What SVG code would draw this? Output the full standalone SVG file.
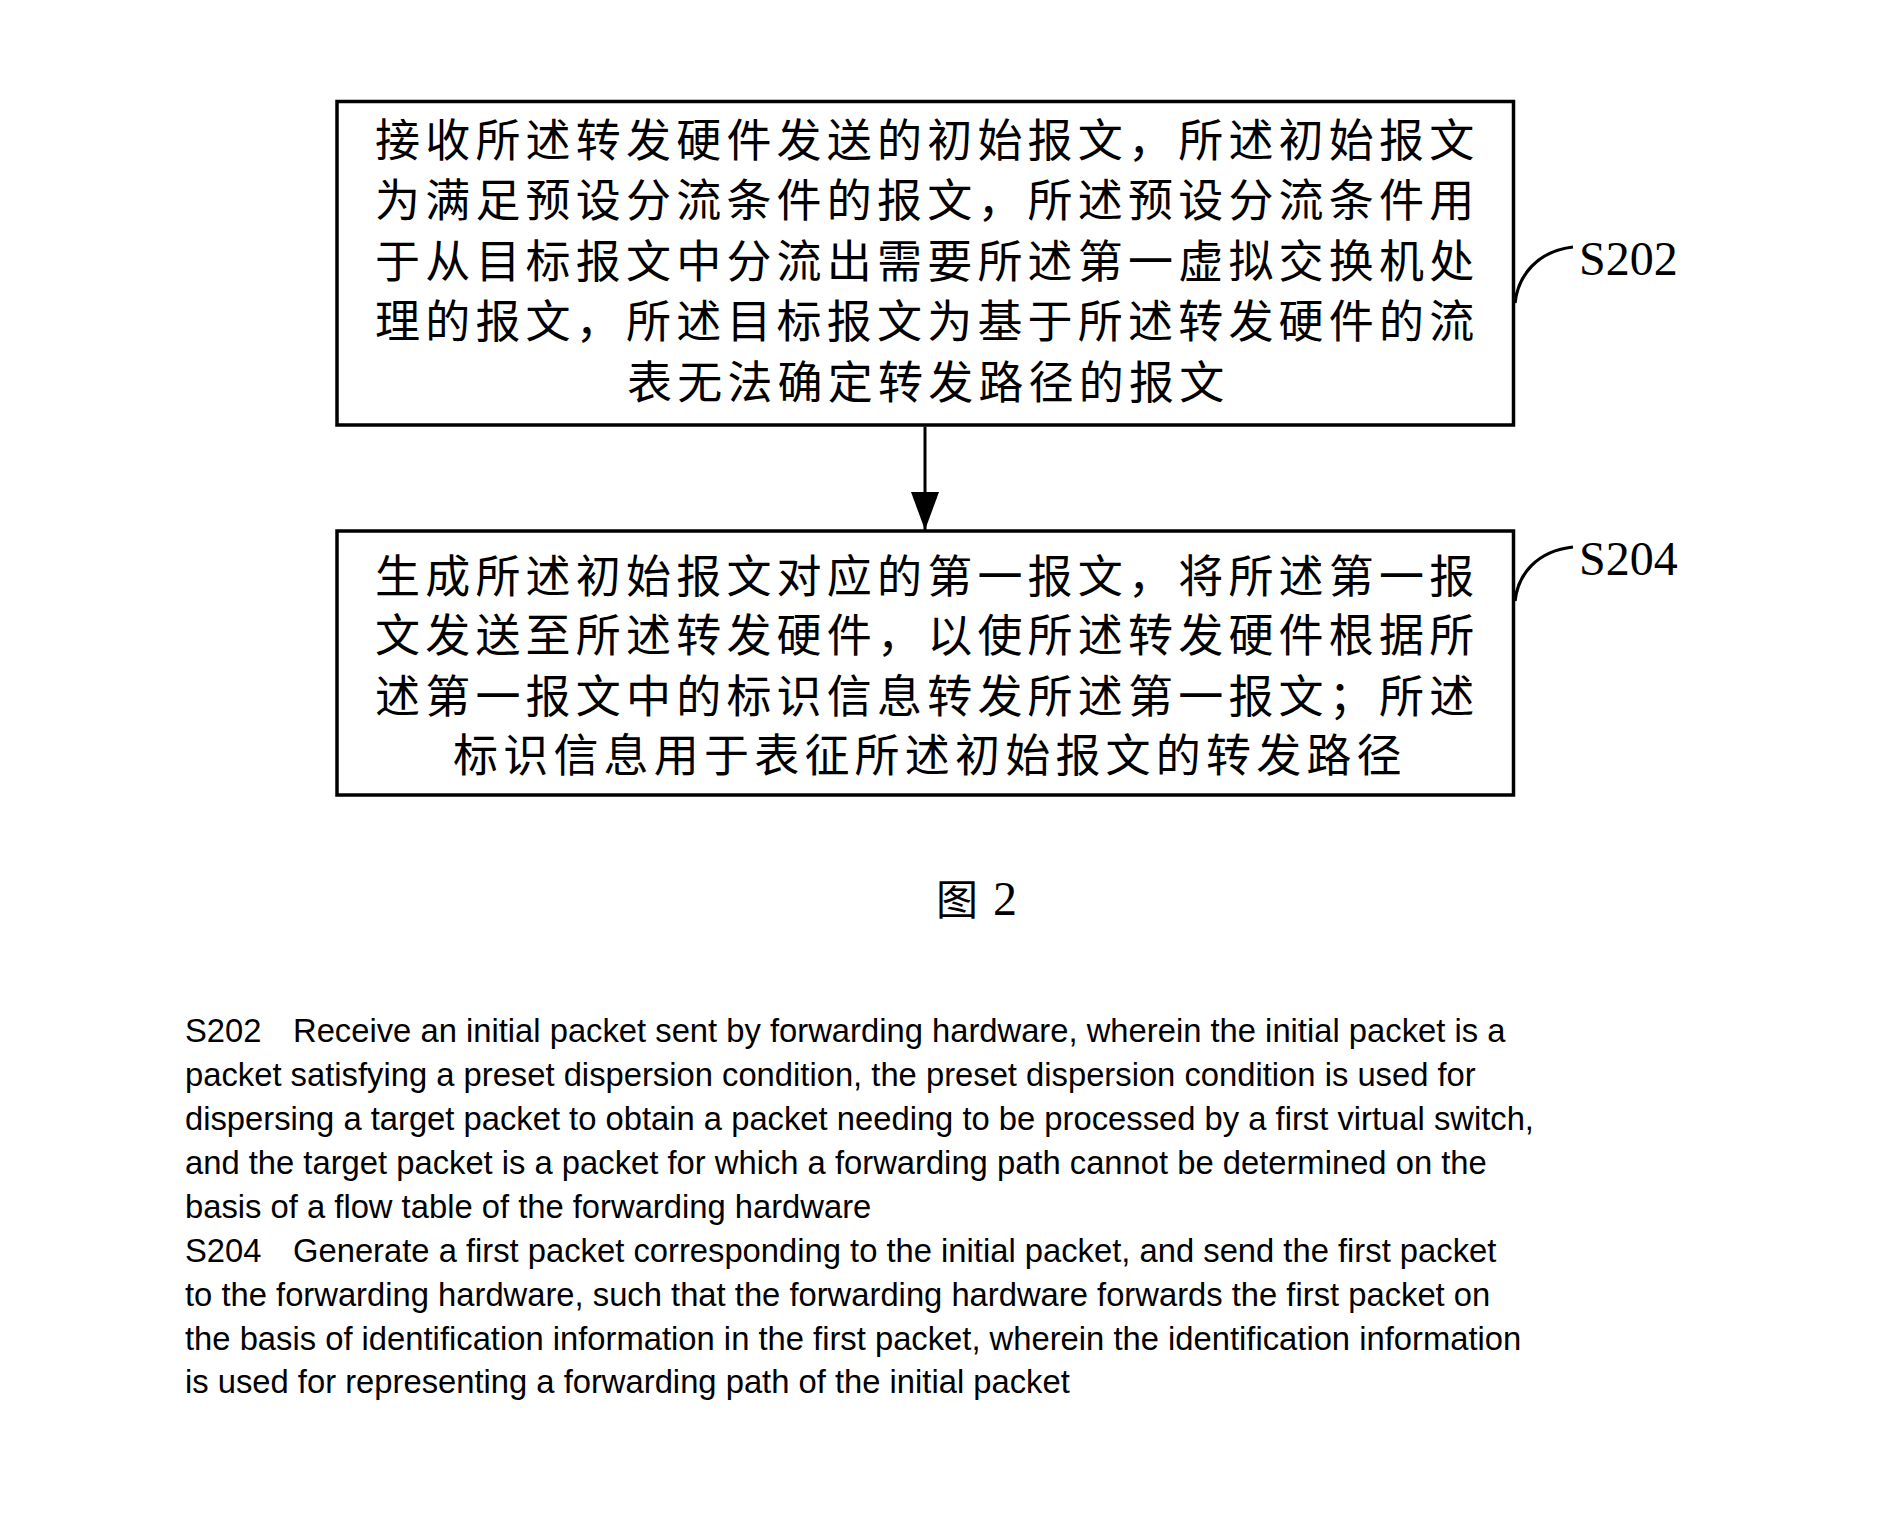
<svg xmlns="http://www.w3.org/2000/svg" width="1886" height="1537" viewBox="0 0 1886 1537">
  <style>
    .box { fill: #ffffff; stroke: #000000; stroke-width: 3.5; }
    .cn { font-family: "Noto Sans CJK SC", "Noto Sans CJK JP", sans-serif; font-size: 45px; letter-spacing: 5.2px; fill: #000000; }
    .lbl { font-family: "Liberation Serif", "Times New Roman", serif; font-size: 48px; fill: #000000; }
    .lead { fill: none; stroke: #000000; stroke-width: 3.2; }
    .conn { fill: none; stroke: #000000; stroke-width: 3; }
    .en { font-family: "Liberation Sans", Arial, sans-serif; font-size: 32.75px; fill: #000000; }
  </style>
  <defs>
    <marker id="arrowhead" markerUnits="userSpaceOnUse" markerWidth="38" markerHeight="28" refX="38" refY="14" viewBox="0 0 38 28" orient="auto">
      <path d="M0,0 L38,14 L0,28 Z" fill="#000000"/>
    </marker>
  </defs>
  <rect width="1886" height="1537" fill="#ffffff"/>

  <g id="step-s202">
    <rect class="box" x="337" y="101.5" width="1176.5" height="323.5"/>
    <text class="cn" x="375" y="157">接收所述转发硬件发送的初始报文，所述初始报文</text>
    <text class="cn" x="375" y="217">为满足预设分流条件的报文，所述预设分流条件用</text>
    <text class="cn" x="375" y="277.5">于从目标报文中分流出需要所述第一虚拟交换机处</text>
    <text class="cn" x="375" y="338">理的报文，所述目标报文为基于所述转发硬件的流</text>
    <text class="cn" x="627" y="398.5">表无法确定转发路径的报文</text>
  </g>

  <g id="step-s204">
    <rect class="box" x="337" y="531" width="1176.5" height="264"/>
    <text class="cn" x="375" y="592.5">生成所述初始报文对应的第一报文，将所述第一报</text>
    <text class="cn" x="375" y="651.5">文发送至所述转发硬件，以使所述转发硬件根据所</text>
    <text class="cn" x="375" y="712.5">述第一报文中的标识信息转发所述第一报文；所述</text>
    <text class="cn" x="453" y="771.5">标识信息用于表征所述初始报文的转发路径</text>
  </g>

  <g id="label-s202">
    <path class="lead" d="M1515,303 C1518,276 1537,251 1573,247"/>
    <text class="lbl" x="1579" y="275">S202</text>
  </g>

  <g id="label-s204">
    <path class="lead" d="M1515,601 C1518,574 1537,551 1573,547"/>
    <text class="lbl" x="1579" y="575">S204</text>
  </g>

  <g id="connectors">
    <line class="conn" x1="925" y1="426.5" x2="925" y2="530" marker-end="url(#arrowhead)"/>
  </g>

  <g id="caption">
    <text x="936" y="915" font-family="Noto Sans CJK SC, sans-serif" font-size="42" fill="#000">图</text>
    <text class="lbl" x="993" y="915" font-size="47">2</text>
  </g>

  <g id="description">
    <text class="en" x="185" y="1042">S202</text>
    <text class="en" x="293" y="1042">Receive an initial packet sent by forwarding hardware, wherein the initial packet is a</text>
    <text class="en" x="185" y="1086">packet satisfying a preset dispersion condition, the preset dispersion condition is used for</text>
    <text class="en" x="185" y="1130">dispersing a target packet to obtain a packet needing to be processed by a first virtual switch,</text>
    <text class="en" x="185" y="1174">and the target packet is a packet for which a forwarding path cannot be determined on the</text>
    <text class="en" x="185" y="1218">basis of a flow table of the forwarding hardware</text>
    <text class="en" x="185" y="1261.5">S204</text>
    <text class="en" x="293" y="1261.5">Generate a first packet corresponding to the initial packet, and send the first packet</text>
    <text class="en" x="185" y="1305.5">to the forwarding hardware, such that the forwarding hardware forwards the first packet on</text>
    <text class="en" x="185" y="1349.5">the basis of identification information in the first packet, wherein the identification information</text>
    <text class="en" x="185" y="1393">is used for representing a forwarding path of the initial packet</text>
  </g>
</svg>
